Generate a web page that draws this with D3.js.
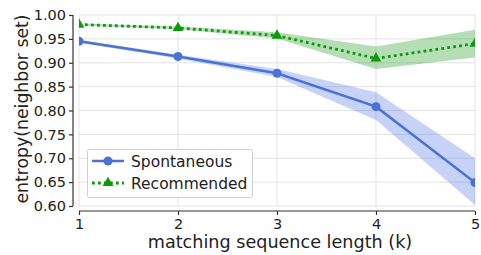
<!DOCTYPE html>
<html>
<head>
<meta charset="utf-8">
<script src="https://cdn.jsdelivr.net/npm/d3@7"></script>
<style>
  body { margin: 0; background: #fff; }
  text { font-family: "DejaVu Sans", sans-serif; fill: #222; }
</style>
</head>
<body>
<div class="canva"></div>
<script>
// data
const kValues = [1, 2, 3, 4, 5];
const spontMean = [0.945, 0.913, 0.878, 0.808, 0.649];
const spontLow  = [0.942, 0.909, 0.870, 0.780, 0.602];
const spontHigh = [0.948, 0.917, 0.887, 0.838, 0.700];
const recMean = [0.980, 0.973, 0.957, 0.909, 0.940];
const recLow  = [0.978, 0.970, 0.951, 0.887, 0.911];
const recHigh = [0.982, 0.976, 0.964, 0.934, 0.969];
const yTicks = [0.60, 0.65, 0.70, 0.75, 0.80, 0.85, 0.90, 0.95, 1.00];
const seriesNames = ["Spontaneous", "Recommended"];

const W = 481, H = 255;
const svg = d3.select('.canva').append('svg')
    .attr('width', W)
    .attr('height', H);

const x = d3.scaleLinear().domain([1, 5]).range([79, 475]);
const y = d3.scaleLinear().domain([0.6, 1.0]).range([206, 15]);

// grid
svg.append('g').selectAll('line').data(yTicks).enter().append('line')
    .attr('x1', 79).attr('x2', 475)
    .attr('y1', d => y(d)).attr('y2', d => y(d))
    .attr('stroke', '#e3e3e3').attr('stroke-width', 1);
svg.append('g').selectAll('line').data(kValues).enter().append('line')
    .attr('x1', d => x(d)).attr('x2', d => x(d))
    .attr('y1', 15).attr('y2', 206)
    .attr('stroke', '#e3e3e3').attr('stroke-width', 1);

// clip to plot area
svg.append('clipPath').attr('id', 'plotclip')
  .append('rect').attr('x', 79).attr('y', 15).attr('width', 396).attr('height', 191);
const plot = svg.append('g').attr('clip-path', 'url(#plotclip)');

const blue = '#4a72d6', green = '#0c990c';

function band(lo, hi) {
    return d3.area()
        .x((d, i) => x(kValues[i]))
        .y0((d, i) => y(lo[i]))
        .y1((d, i) => y(hi[i]))(kValues);
}
plot.append('path').attr('d', band(spontLow, spontHigh))
    .attr('fill', 'royalblue').attr('fill-opacity', 0.3);
plot.append('path').attr('d', band(recLow, recHigh))
    .attr('fill', '#2ca02c').attr('fill-opacity', 0.35);

const line = d3.line().x((d, i) => x(kValues[i])).y(d => y(d));

plot.append('path').attr('d', line(spontMean))
    .attr('fill', 'none').attr('stroke', blue).attr('stroke-width', 2.5);
plot.selectAll('circle.sp').data(spontMean).enter().append('circle')
    .attr('cx', (d, i) => x(kValues[i])).attr('cy', d => y(d))
    .attr('r', 4.5).attr('fill', blue);

plot.append('path').attr('d', line(recMean))
    .attr('fill', 'none').attr('stroke', green).attr('stroke-width', 2.8)
    .attr('stroke-dasharray', '2.8,3.2');
const tri = d3.symbol().type(d3.symbolTriangle).size(50);
plot.selectAll('path.rec').data(recMean).enter().append('path')
    .attr('class', 'rec')
    .attr('d', tri)
    .attr('transform', (d, i) => `translate(${x(kValues[i])},${y(d)})`)
    .attr('fill', green);

// axes with offset spines
const yAxis = svg.append('g').attr('transform', 'translate(73,0)')
    .call(d3.axisLeft(y).tickValues(yTicks).tickFormat(d3.format('.2f')).tickSize(4).tickPadding(3));
const xAxis = svg.append('g').attr('transform', 'translate(0,211)')
    .call(d3.axisBottom(x).tickValues(kValues).tickFormat(d3.format('d')).tickSize(4).tickPadding(4));
[yAxis, xAxis].forEach(a => {
    a.select('.domain').attr('stroke', '#333').attr('stroke-width', 1.2);
    a.selectAll('.tick line').attr('stroke', '#333').attr('stroke-width', 1.2);
    a.selectAll('.tick text').style('font-size', '14.5px').attr('fill', '#222')
        .style('font-family', '"DejaVu Sans", sans-serif');
});
// d3 axis domain includes outer ticks; remove them
yAxis.select('.domain').attr('d', `M0,${y(1.0)}V${y(0.6)}`);
xAxis.select('.domain').attr('d', `M${x(1)},0H${x(5)}`);

svg.append('text')
    .attr('transform', 'translate(28,109) rotate(-90)')
    .attr('text-anchor', 'middle')
    .style('font-size', '17.3px')
    .text('entropy(neighbor set)');
svg.append('text')
    .attr('x', 280).attr('y', 248)
    .attr('text-anchor', 'middle')
    .style('font-size', '17.6px')
    .text('matching sequence length (k)');

// legend
const lg = svg.append('g');
lg.append('rect')
    .attr('x', 87.5).attr('y', 149.5).attr('width', 165).attr('height', 48)
    .attr('rx', 2)
    .attr('fill', 'white').attr('fill-opacity', 0.85)
    .attr('stroke', '#d0d0d0');
lg.append('line').attr('x1', 92).attr('x2', 124).attr('y1', 161).attr('y2', 161)
    .attr('stroke', blue).attr('stroke-width', 2.5);
lg.append('circle').attr('cx', 108).attr('cy', 161).attr('r', 4.5).attr('fill', blue);
lg.append('line').attr('x1', 92).attr('x2', 124).attr('y1', 183).attr('y2', 183)
    .attr('stroke', green).attr('stroke-width', 2.8).attr('stroke-dasharray', '2.8,3.2');
lg.append('path').attr('d', tri).attr('transform', 'translate(108,183)').attr('fill', green);
lg.selectAll('text').data(seriesNames).enter().append('text')
    .attr('x', 131).attr('y', (d, i) => 166.5 + i * 22)
    .style('font-size', '15.5px')
    .text(d => d);
</script>
</body>
</html>
